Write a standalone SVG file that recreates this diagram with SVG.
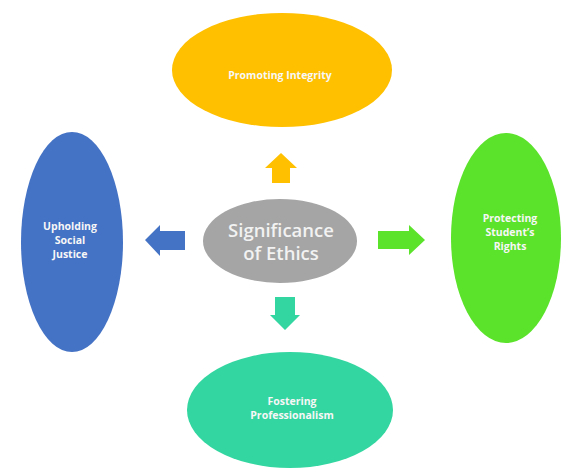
<svg xmlns="http://www.w3.org/2000/svg" width="569" height="470" viewBox="0 0 569 470">
<style>
.lbl{font-family:"Open Sans","Liberation Sans",sans-serif;font-weight:bold;font-size:10.5px;fill:#f7f7f7;text-anchor:middle}
.ctr{font-family:"Open Sans","Liberation Sans",sans-serif;font-weight:600;font-size:18.5px;fill:#f2f2f2;text-anchor:middle}
</style>
<rect width="569" height="470" fill="#ffffff"/>
<g id="connectors">
<polygon points="281,153 297,168 290,168 290,183 272,183 272,168 265,168" fill="#FFC000"/>
<polygon points="145,240 160,225 160,231 185,231 185,250 160,250 160,256" fill="#4472C4"/>
<polygon points="425,240 409,225 409,231 378,231 378,249 409,249 409,255" fill="#5BE22A"/>
<polygon points="285,330 300,315 295,315 295,297 275,297 275,315 270,315" fill="#33D6A0"/>
</g>
<g id="promoting-integrity">
<ellipse cx="282" cy="70" rx="110" ry="57" fill="#FFC000"/>
<text class="lbl" x="280" y="79">Promoting Integrity</text>
</g>
<g id="upholding-social-justice">
<ellipse cx="72" cy="242" rx="51" ry="110" fill="#4472C4"/>
<text class="lbl" x="70" y="230">Upholding</text>
<text class="lbl" x="70" y="244">Social</text>
<text class="lbl" x="70" y="258">Justice</text>
</g>
<g id="protecting-rights">
<ellipse cx="506" cy="238" rx="55" ry="105" fill="#5BE22A"/>
<text class="lbl" x="510" y="222">Protecting</text>
<text class="lbl" x="510" y="236">Student’s</text>
<text class="lbl" x="510" y="250">Rights</text>
</g>
<g id="fostering-professionalism">
<ellipse cx="290" cy="410" rx="103" ry="58" fill="#33D6A0"/>
<text class="lbl" x="292" y="405">Fostering</text>
<text class="lbl" x="292" y="419">Professionalism</text>
</g>
<g id="significance-of-ethics">
<ellipse cx="280" cy="241" rx="77" ry="42" fill="#A5A5A5"/>
<text class="ctr" x="281" y="237">Significance</text>
<text class="ctr" x="281" y="260">of Ethics</text>
</g>
</svg>
